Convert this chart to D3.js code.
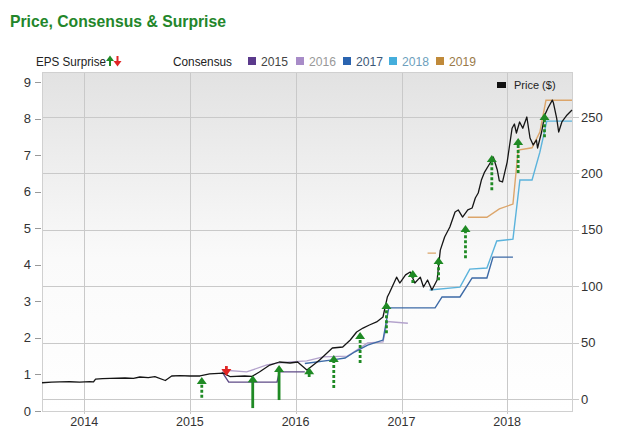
<!DOCTYPE html>
<html><head><meta charset="utf-8">
<script src="https://cdn.jsdelivr.net/npm/d3@7"></script>
<style>body{margin:0;background:#fff}svg{display:block;font-family:"Liberation Sans",Arial,sans-serif}</style>
</head><body><svg id="c" width="620" height="448"></svg>
<script>
// ---------- DATA ----------
const priceDates = ["2013-08-08","2013-09-10","2013-10-08","2013-11-12","2013-12-16","2014-01-20","2014-02-02","2014-02-09","2014-03-05","2014-04-01","2014-05-22","2014-06-20","2014-07-12","2014-08-10","2014-09-02","2014-10-08","2014-10-30","2014-11-28","2015-01-01","2015-02-05","2015-03-10","2015-04-27","2015-05-19","2015-07-09","2015-08-03","2015-08-29","2015-10-04","2015-11-06","2015-12-13","2016-01-08","2016-02-09","2016-02-27","2016-03-24","2016-05-07","2016-06-12","2016-07-08","2016-07-30","2016-08-21","2016-09-12","2016-10-07","2016-10-29","2016-11-13","2016-11-20","2016-12-15","2016-12-26","2017-01-15","2017-01-31","2017-02-16","2017-03-07","2017-03-18","2017-04-01","2017-04-16","2017-05-04","2017-05-15","2017-05-30","2017-06-17","2017-07-05","2017-07-16","2017-07-31","2017-08-18","2017-09-02","2017-09-13","2017-09-23","2017-10-04","2017-10-15","2017-11-03","2017-11-14","2017-11-28","2017-12-05","2017-12-16","2018-01-01","2018-01-18","2018-01-26","2018-02-02","2018-02-13","2018-02-24","2018-03-10","2018-03-21","2018-04-01","2018-04-12","2018-04-16","2018-04-30","2018-05-11","2018-05-22","2018-06-06","2018-06-10","2018-06-21","2018-06-28","2018-07-09","2018-07-27","2018-08-13"];
const priceValues = [14.4,15.0,15.1,15.3,15.0,15.4,15.1,17.7,18.0,18.2,18.6,18.3,19.5,19.0,19.9,16.4,20.4,20.8,20.4,20.4,22.2,23.0,19.9,20.4,20.0,23.9,30.1,32.8,31.9,32.8,25.7,29.3,34.6,45.2,46.1,52.3,59.4,62.9,65.6,68.3,72.7,90.4,94.0,108,102.8,110,112.6,102.8,108,99.3,105.5,96.6,105.5,132,143.6,152.5,165.8,167.6,161.3,167.6,169.3,178.2,182.6,194.1,201.2,209.2,214.5,203,193.3,192.4,210,240,243.8,235.8,245.6,240,250,231.4,225.2,229.6,222.5,236.7,251.8,258,265,262.4,249,236.7,245.6,251.8,256.2];

const cons2015Dates = ["2015-04-22","2015-05-15","2015-10-29","2015-11-06","2016-02-02"];
const cons2015Values = [1.07,0.79,0.79,1.07,1.07];
const cons2016Dates = ["2015-04-22","2015-07-16","2015-09-24","2015-10-29","2015-12-13","2016-02-09","2016-04-05","2016-06-28","2016-07-16","2016-09-06","2016-10-29","2016-11-13","2017-01-23"];
const cons2016Values = [1.12,1.07,1.26,1.31,1.34,1.37,1.48,1.50,1.59,1.86,1.89,2.45,2.40];
const cons2017Dates = ["2016-02-02","2016-05-08","2016-06-20","2016-07-24","2016-09-06","2016-10-29","2016-11-18","2017-04-27","2017-05-21","2017-07-22","2017-09-02","2017-10-23","2017-11-13","2018-01-21"];
const cons2017Values = [1.30,1.40,1.45,1.62,1.80,1.94,2.82,2.82,3.12,3.12,3.64,3.64,4.21,4.21];
const cons2018Dates = ["2017-04-08","2017-07-22","2017-08-25","2017-10-23","2017-11-26","2018-01-21","2018-02-14","2018-03-28","2018-04-24","2018-05-18","2018-08-13"];
const cons2018Values = [3.31,3.39,3.88,3.91,4.65,4.70,6.32,6.32,7.08,7.93,7.93];
const cons2019Dates = ["2017-04-01","2017-04-30","2017-06-01","2017-08-18","2017-10-23","2017-12-05","2018-01-21","2018-02-08","2018-03-28","2018-04-24","2018-05-15","2018-08-13"];
const cons2019Values = [4.32,4.32,null,5.30,5.30,5.53,5.66,7.14,7.20,7.63,8.50,8.50];

const surpriseDates = ["2015-02-11","2015-05-07","2015-08-06","2015-11-05","2016-02-17","2016-05-12","2016-08-11","2016-11-10","2017-02-09","2017-05-09","2017-08-10","2017-11-09","2018-02-08","2018-05-10"];
const surpriseFrom = [0.36,1.23,0.08,0.30,0.93,0.63,1.31,2.13,3.50,3.58,4.18,6.04,6.51,7.49];
const surpriseTo   = [0.93,0.96,0.98,1.26,1.20,1.53,2.16,2.98,3.86,4.21,5.09,7.00,7.47,8.15];
const solidSurpriseDates = ["2015-08-06","2015-11-05"];

const consensusYears = ["2015","2016","2017","2018","2019"];
const epsTicks = [0,1,2,3,4,5,6,7,8,9];
const priceTicks = [0,50,100,150,200,250];
const yearTicks = ["2014","2015","2016","2017","2018"];

// ---------- STYLE ----------
const lineColors = {"2015":"#5e4a86","2016":"#b3a2cc","2017":"#3d6aa6","2018":"#5bb3dc","2019":"#dca56a"};
const swatchColors = {"2015":"#5b3a8c","2016":"#a88cc8","2017":"#2a64b0","2018":"#45aedc","2019":"#c08a3a"};
const legendTextColors = {"2015":"#444","2016":"#999","2017":"#3b5778","2018":"#6e9fbd","2019":"#9a7a4a"};
const green = "#1f8a24", red = "#e02424";

const P = {l:42, r:572, t:72, b:411};
const parse = d3.timeParse("%Y-%m-%d");
const svg = d3.select("#c");

const x = d3.scaleTime().domain([parse("2013-08-08"), parse("2018-08-13")]).range([P.l, P.r]);
const yEps = d3.scaleLinear().domain([0,9]).range([411,82]);
const yPrice = d3.scaleLinear().domain([0,250]).range([399,117]);

// background
const defs = svg.append("defs");
const g = defs.append("linearGradient").attr("id","bg").attr("x1",0).attr("y1",0).attr("x2",0).attr("y2",1);
g.append("stop").attr("offset","0").attr("stop-color","#e2e2e2");
g.append("stop").attr("offset","0.55").attr("stop-color","#fafafa");
g.append("stop").attr("offset","1").attr("stop-color","#ffffff");
svg.append("rect").attr("x",P.l).attr("y",P.t).attr("width",P.r-P.l).attr("height",P.b-P.t).attr("fill","url(#bg)");

// gridlines
svg.append("g").selectAll("line").data(priceTicks).join("line")
  .attr("x1",P.l).attr("x2",P.r+7).attr("y1",d=>Math.round(yPrice(d))+0.5).attr("y2",d=>Math.round(yPrice(d))+0.5)
  .attr("stroke","#c9c9c9").attr("stroke-width",1);
svg.append("g").selectAll("line").data(yearTicks).join("line")
  .attr("x1",d=>Math.round(x(parse(d+"-01-01")))+0.5).attr("x2",d=>Math.round(x(parse(d+"-01-01")))+0.5)
  .attr("y1",P.t).attr("y2",P.b+3).attr("stroke","#c9c9c9");
// border
svg.append("rect").attr("x",P.l+0.5).attr("y",P.t+0.5).attr("width",P.r-P.l).attr("height",P.b-P.t)
  .attr("fill","none").attr("stroke","#d0d0d0");

// left axis
const la = svg.append("g");
la.selectAll("line").data(epsTicks).join("line")
  .attr("x1",35).attr("x2",41).attr("y1",d=>Math.round(yEps(d))+0.5).attr("y2",d=>Math.round(yEps(d))+0.5).attr("stroke","#999");
la.selectAll("text").data(epsTicks).join("text")
  .attr("x",31).attr("y",d=>yEps(d)+4.5).attr("text-anchor","end").attr("font-size",13).attr("fill","#333").text(d=>d);
// right axis
svg.append("g").selectAll("text").data(priceTicks).join("text")
  .attr("x",581).attr("y",d=>yPrice(d)+4.5).attr("font-size",13).attr("fill","#333").text(d=>d);
// x axis labels
svg.append("g").selectAll("text").data(yearTicks).join("text")
  .attr("x",d=>x(parse(d+"-01-01"))).attr("y",426).attr("text-anchor","middle").attr("font-size",12.5).attr("fill","#333").text(d=>d);

// consensus lines
const consSeries = {
  "2015": cons2015Dates.map((d,i)=>({d:parse(d),v:cons2015Values[i]})),
  "2016": cons2016Dates.map((d,i)=>({d:parse(d),v:cons2016Values[i]})),
  "2017": cons2017Dates.map((d,i)=>({d:parse(d),v:cons2017Values[i]})),
  "2018": cons2018Dates.map((d,i)=>({d:parse(d),v:cons2018Values[i]})),
  "2019": cons2019Dates.map((d,i)=>({d:parse(d),v:cons2019Values[i]}))
};
const cLine = d3.line().defined(p=>p.v!==null).x(p=>x(p.d)).y(p=>yEps(p.v));
consensusYears.forEach(k=>{
  svg.append("path").attr("d",cLine(consSeries[k])).attr("fill","none")
    .attr("stroke",lineColors[k]).attr("stroke-width",1.4);
});

// price line
const price = priceDates.map((d,i)=>({d:parse(d),v:priceValues[i]}));
svg.append("path").attr("d",d3.line().x(p=>x(p.d)).y(p=>yPrice(p.v))(price))
  .attr("fill","none").attr("stroke","#151515").attr("stroke-width",1.3).attr("stroke-linejoin","round");

// surprise arrows
const surprises = surpriseDates.map((d,i)=>({d, from:surpriseFrom[i], to:surpriseTo[i]}));
const ag = svg.append("g");
surprises.forEach(s=>{
  const cx = x(parse(s.d));
  const up = s.to >= s.from;
  const col = up ? green : red;
  const y0 = yEps(s.from), y1 = yEps(s.to);
  const hh = 7, hw = 5;
  const shaftEnd = up ? y1 + hh - 0.5 : y1 - hh + 0.5;
  ag.append("line").attr("x1",cx).attr("x2",cx).attr("y1",y0).attr("y2",shaftEnd)
    .attr("stroke",col).attr("stroke-width",2.8)
    .attr("stroke-dasharray", (solidSurpriseDates.includes(s.d) || !up) ? null : "3,2");
  const pts = up ? [[cx,y1],[cx-hw,y1+hh],[cx+hw,y1+hh]] : [[cx,y1],[cx-hw,y1-hh],[cx+hw,y1-hh]];
  ag.append("path").attr("d","M"+pts.join("L")+"Z").attr("fill",col);
});

// title
svg.append("text").attr("x",10).attr("y",27).attr("font-size",17).attr("font-weight","bold")
  .attr("fill","#23862a").attr("textLength",216).attr("lengthAdjust","spacingAndGlyphs")
  .text("Price, Consensus & Surprise");

// legend row
svg.append("text").attr("x",36).attr("y",66).attr("font-size",13.5).attr("fill","#222")
  .attr("textLength",70).attr("lengthAdjust","spacingAndGlyphs").text("EPS Surprise");
// mini arrows
svg.append("line").attr("x1",110).attr("x2",110).attr("y1",66).attr("y2",60).attr("stroke",green).attr("stroke-width",2);
svg.append("path").attr("d","M110,55.5L106,61L114,61Z").attr("fill",green);
svg.append("line").attr("x1",117.5).attr("x2",117.5).attr("y1",56).attr("y2",62).attr("stroke",red).attr("stroke-width",2);
svg.append("path").attr("d","M117.5,66.5L113.5,61L121.5,61Z").attr("fill",red);

svg.append("text").attr("x",173).attr("y",66).attr("font-size",13.5).attr("fill","#222")
  .attr("textLength",59).attr("lengthAdjust","spacingAndGlyphs").text("Consensus");
const legX = {"2015":248,"2016":296,"2017":343,"2018":389,"2019":436};
consensusYears.forEach(k=>{
  svg.append("rect").attr("x",legX[k]).attr("y",57).attr("width",8).attr("height",8).attr("fill",swatchColors[k]);
  svg.append("text").attr("x",legX[k]+13).attr("y",66).attr("font-size",13.5).attr("fill",legendTextColors[k])
    .attr("textLength",27).attr("lengthAdjust","spacingAndGlyphs").text(k);
});

// price legend
svg.append("rect").attr("x",497).attr("y",82).attr("width",9).attr("height",6).attr("fill","#111");
svg.append("text").attr("x",514).attr("y",89).attr("font-size",11).attr("fill","#222").text("Price ($)");
</script></body></html>
